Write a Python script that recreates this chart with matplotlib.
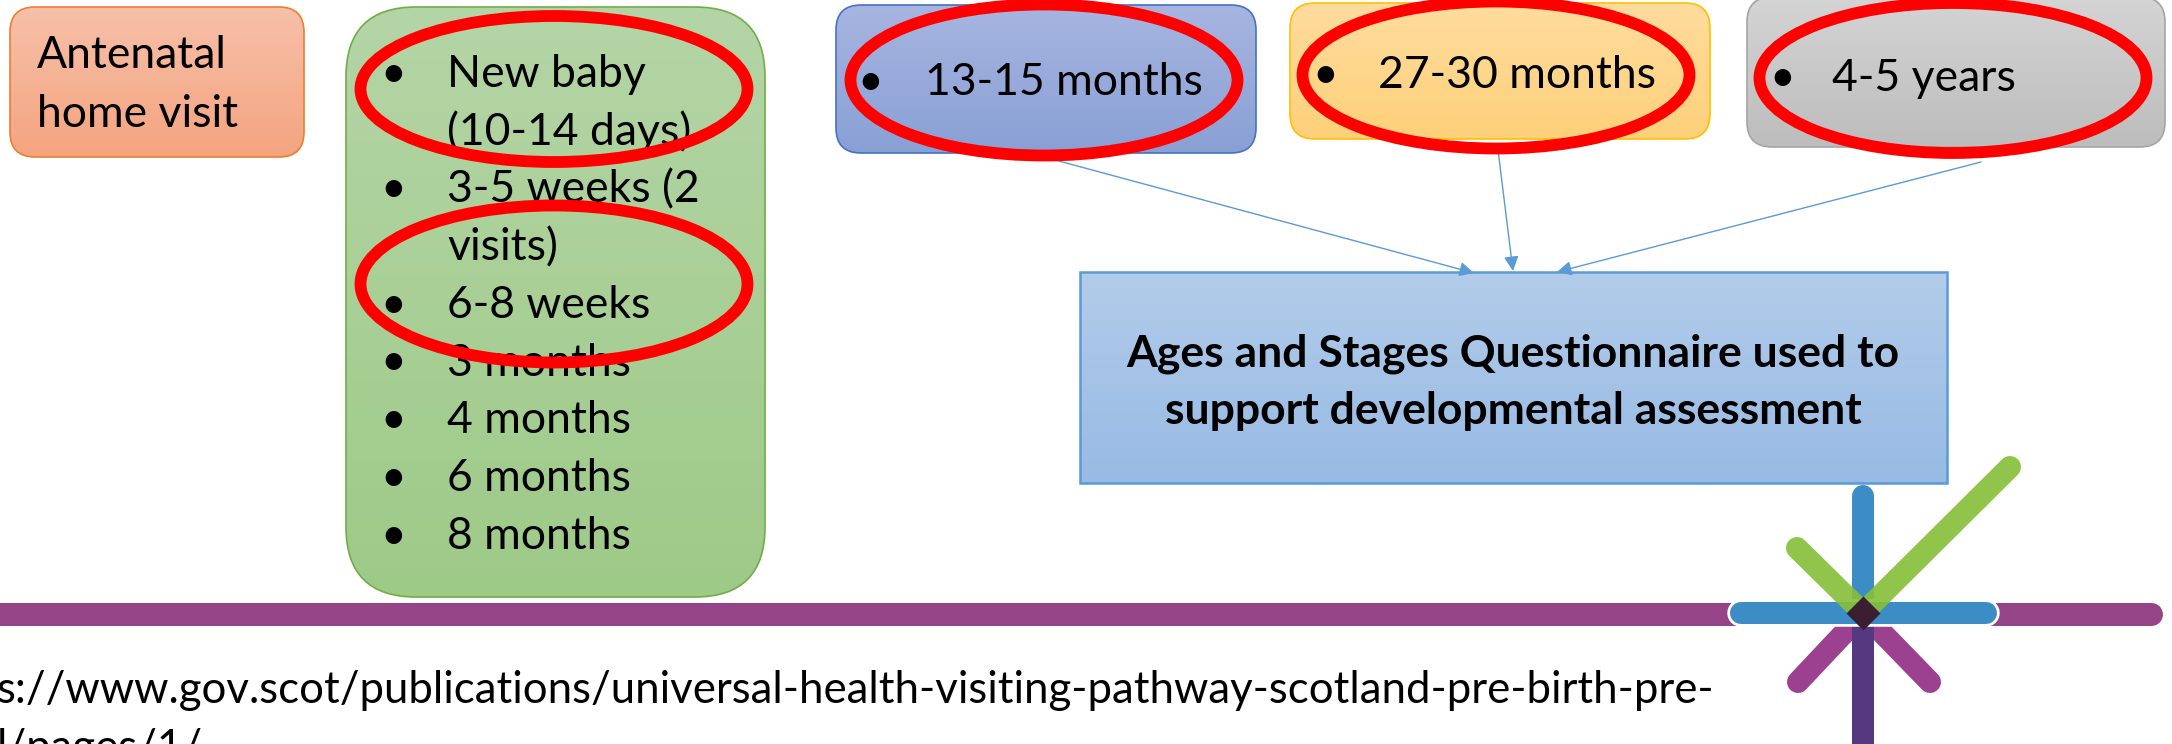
import matplotlib
matplotlib.use("Agg")
import matplotlib.pyplot as plt
import numpy as np
from matplotlib.patches import FancyBboxPatch, Ellipse
from matplotlib.colors import to_rgb

plt.rcParams['font.family'] = ['Lato', 'DejaVu Sans']

# text content
antenatal_lines = ["Antenatal", "home visit"]
early_visits = ["New baby", "(10-14 days)", "3-5 weeks (2", "visits)", "6-8 weeks",
                "3 months", "4 months", "6 months", "8 months"]
early_bullets = [True, False, True, False, True, True, True, True, True]
later_visits = ["13-15 months", "27-30 months", "4-5 years"]
asq_lines = ["Ages and Stages Questionnaire used to", "support developmental assessment"]
# the source link is cut by the slide edge in the original
url_lines = ["s://www.gov.scot/publications/universal-health-visiting-pathway-scotland-pre-birth-pre-",
             "l/pages/1/"]

W, H = 2172, 744
fig = plt.figure(figsize=(W / 100, H / 100), dpi=100)
ax = fig.add_axes([0, 0, 1, 1])
ax.set_xlim(0, W)
ax.set_ylim(H, 0)
ax.axis('off')

FS = 32


def grad_box(x0, y0, x1, y1, top, bottom, edge, r, lw=1.2):
    style = f"round,pad=0,rounding_size={r}" if r > 0 else "square,pad=0"
    patch = FancyBboxPatch((x0, y0), x1 - x0, y1 - y0, boxstyle=style,
                           fc='none', ec=edge, lw=lw, zorder=3)
    ax.add_patch(patch)
    t = np.linspace(0, 1, 200)[:, None, None]
    img = (1 - t) * np.array(to_rgb(top)) + t * np.array(to_rgb(bottom))
    im = ax.imshow(img, extent=(x0, x1, y1, y0), origin='upper', aspect='auto', zorder=2)
    im.set_clip_path(patch)


def bullet(x, y):
    ax.text(x, y, "\u2022", fontsize=FS, ha='center', va='baseline', zorder=4)


# antenatal box
grad_box(10, 7, 304, 157, '#F7C0A9', '#F4A47F', '#ED7D31', 25)
for i, s in enumerate(antenatal_lines):
    ax.text(37, 68 + i * 59, s, fontsize=FS, va='baseline', zorder=4)

# early visits box
grad_box(346, 7, 765, 597, '#B4D5A6', '#9ECA88', '#70AD47', 70)
for i, (s, b) in enumerate(zip(early_visits, early_bullets)):
    y = 87 + i * 57.7
    if b:
        bullet(393, y)
    ax.text(447, y, s, fontsize=FS, va='baseline', zorder=4)

# later visit boxes
later_boxes = [(836, 5, 1256, 153, '#A7B5E0', '#89A0D5', '#4472C4'),
               (1290, 3, 1710, 139, '#FFDC9E', '#FDD07A', '#FFC000'),
               (1747, -3, 2165, 147, '#D4D4D4', '#BDBDBD', '#A5A5A5')]
later_text = [(870, 925, 95), (1325, 1378, 88), (1782, 1832, 91)]
for (x0, y0, x1, y1, c0, c1, ec), (bx, tx, ty), s in zip(later_boxes, later_text, later_visits):
    grad_box(x0, y0, x1, y1, c0, c1, ec, 25)
    bullet(bx, ty)
    ax.text(tx, ty, s, fontsize=FS, va='baseline', zorder=4)

# ASQ box
grad_box(1080, 272, 1947, 483, '#B2CCEA', '#98BAE4', '#5B9BD5', 0, lw=1.8)
for i, s in enumerate(asq_lines):
    ax.text(1513, 366 + i * 58, s, fontsize=32, fontweight='bold', ha='center',
            va='baseline', zorder=4)

# arrows
arrows = [((1044, 157), (1474, 273)), ((1498, 150), (1513, 271)), ((1981, 162), (1557, 272))]
for a, b in arrows:
    ax.annotate("", xy=b, xytext=a,
                arrowprops=dict(arrowstyle='-|>', color='#5B9BD5', lw=1.0,
                                mutation_scale=22, shrinkA=0, shrinkB=0), zorder=5)

# red ellipses
ellipses = [(554, 89, 387, 146), (554, 284, 387, 157),
            (1044, 80, 387, 151), (1496, 75, 387, 147), (1953, 78, 387, 150)]
for cx, cy, w, h in ellipses:
    ax.add_patch(Ellipse((cx, cy), w, h, fill=False, ec='#FF0000', lw=8.5, zorder=6))

# timeline
px = 100 / 72
ax.plot([-30, 2151], [613.5, 613.5], color='#954487', lw=23 / px,
        solid_capstyle='round', zorder=3)

# logo
c = (1863, 613)
lw_logo = 22 / px
ax.plot([c[0], 1798], [c[1], 682], color='#9B418F', lw=lw_logo, solid_capstyle='round', zorder=7)
ax.plot([c[0], 1930], [c[1], 682], color='#9B418F', lw=lw_logo, solid_capstyle='round', zorder=7)
ax.plot([c[0], c[0]], [c[1], 780], color='#55387F', lw=lw_logo, solid_capstyle='round', zorder=7)
ax.plot([c[0], c[0]], [496, c[1]], color='#3C8DC6', lw=lw_logo, solid_capstyle='round', zorder=7)
ax.plot([1741, 1986], [c[1], c[1]], color='white', lw=lw_logo + 4, solid_capstyle='round', zorder=7)
ax.plot([1741, 1986], [c[1], c[1]], color='#3C8DC6', lw=lw_logo, solid_capstyle='round', zorder=7)
ax.plot([1797, c[0]], [548, c[1]], color='#87BF3A', lw=lw_logo, solid_capstyle='round',
        alpha=0.92, zorder=8)
ax.plot([c[0], 2010], [c[1], 467], color='#87BF3A', lw=lw_logo, solid_capstyle='round',
        alpha=0.92, zorder=8)
ax.scatter([c[0]], [c[1]], marker='D', s=300, color='#3B1F30', zorder=9, linewidths=0)

# source url
ax.text(-3, 703, url_lines[0], fontsize=31.5, ha='left', va='baseline', zorder=4)
ax.text(-3, 761, url_lines[1], fontsize=31.5, ha='left', va='baseline', zorder=4)

fig.savefig("out.png", dpi=100, facecolor='white')
